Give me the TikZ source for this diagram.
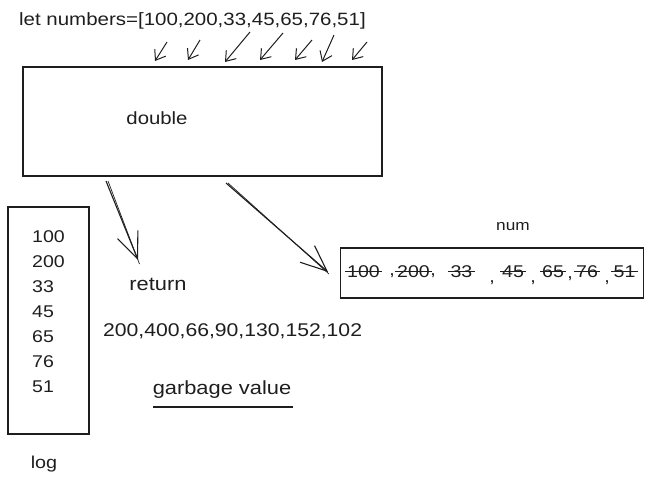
\documentclass[tikz,border=0pt]{standalone}
\usepackage{fontspec}
\setmainfont[FakeStretch=1.15]{Liberation Sans}
\usetikzlibrary{arrows.meta}
\definecolor{ink}{HTML}{1E1E1E}
\newcommand{\fsz}[1]{\fontsize{#1}{#1}\selectfont}
\tikzset{
  box/.style={draw=ink, line width=1.3pt, inner sep=0pt},
  txt/.style={text=ink, inner sep=0pt, font=\fsz{19}},
  smallarrow/.style={draw=ink, line width=1pt, -{Straight Barb[length=9pt,width=13pt]}},
  bigarrow/.style={draw=ink, line width=1.1pt, -{Straight Barb[length=26pt,width=22pt]}},
  sketchline/.style={draw=ink, line width=0.7pt},
  strike/.style={draw=ink, line width=1.1pt},
}
\begin{document}
\begin{tikzpicture}[x=1pt,y=-1pt]
\useasboundingbox (0,0) rectangle (654,484);
% title
\node[txt, anchor=west, font=\fsz{17.8}] (title) at (19,21) {let numbers=[100,200,33,45,65,76,51]};
% main box
\node[box, minimum width=359pt, minimum height=109pt] (double) at (202.5,121.5) {};
\node[txt, font=\fsz{17.7}] (doubletxt) at (157,118) {double};
% small arrows
\foreach \i/\tx/\ty/\hx/\hy in {1/167/42/155/61, 2/200/40/188/60, 3/250/32/225/62, 4/283/33/260/60, 5/312/40/295/60, 6/334/35/322/62, 7/367/42/352/60}{
  \coordinate (s\i) at (\tx,\ty);
  \coordinate (e\i) at (\hx,\hy);
  \draw[smallarrow] (s\i) -- (e\i);
}
% log box
\node[box, minimum width=81pt, minimum height=227pt] (logbox) at (48.5,320.5) {};
\foreach \v [count=\k from 0] in {100,200,33,45,65,76,51}{
  \node[txt, anchor=west, font=\fsz{17}] (log\k) at (32,{237+25*\k}) {\v};
}
\node[txt, font=\fsz{17.2}] (logtxt) at (44,464) {log};
% return
\node[txt, font=\fsz{19}] (ret) at (158,284) {return};
\node[txt, anchor=west, font=\fsz{18.4}] (result) at (103,331) {200,400,66,90,130,152,102};
\node[txt] (garbage) at (222,390) {garbage value};
\coordinate (ul1) at (153,407);
\coordinate (ul2) at (293,407);
\draw[draw=ink, line width=1.6pt] (ul1) -- (ul2);
% num
\node[txt, font=\fsz{15}] (numtxt) at (513,227) {num};
\node[box, minimum width=303pt, minimum height=50pt] (numbox) at (492,273) {};
\foreach \n/\v/\x in {a/100/363.5, b/200/413.5, c/33/461.5, d/45/513, e/65/553, f/76/587, g/51/624.5}{
  \node[txt, anchor=base, font=\fsz{17}] (num\n) at (\x,277) {\v};
  \draw[strike] ([xshift=-2pt]num\n.west) -- ([xshift=2pt]num\n.east);
}
\foreach \n/\x/\y in {1/392/276, 2/433/276, 3/492/283, 4/533/283, 5/570/278, 6/607/283}{
  \node[txt, anchor=base, font=\fsz{17}] (comma\n) at (\x,\y) {,};
}
% big arrows
\coordinate (b1s) at (106,181);
\coordinate (b1e) at (138,260);
\draw[bigarrow] (b1s) -- (b1e);
\draw[sketchline] ([xshift=2pt]b1s) -- ([xshift=1.5pt,yshift=-4pt]b1e);
\coordinate (b2s) at (226,183);
\coordinate (b2e) at (328,272);
\draw[bigarrow] (b2s) -- (b2e);
\draw[sketchline] ([xshift=2pt]b2s) -- ([xshift=1pt,yshift=-2pt]b2e);
\end{tikzpicture}
\end{document}
